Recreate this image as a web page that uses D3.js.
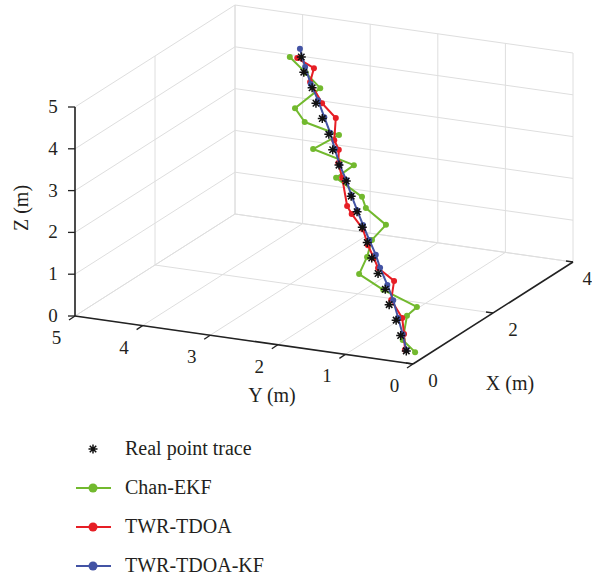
<!DOCTYPE html>
<html>
<head>
<meta charset="utf-8">
<script src="https://cdn.jsdelivr.net/npm/d3@7"></script>
<style>
  body { margin: 0; background: #fff; }
  svg { display: block; font-family: "Liberation Serif", "DejaVu Serif", serif; }
  .grid { stroke: #dedede; stroke-width: 1; fill: none; }
  .axis { stroke: #222; stroke-width: 1.6; fill: none; }
  .tick { stroke: #222; stroke-width: 1.3; }
  text { fill: #231f20; }
</style>
</head>
<body>
<svg id="chart" width="592" height="580"></svg>
<script>
// shared x positions of each time step
const xTrace = [0.39, 0.52, 0.66, 0.79, 0.93, 1.07, 1.2, 1.34, 1.47, 1.61, 1.75, 1.88, 2.02, 2.15, 2.29, 2.43, 2.56, 2.7, 2.83, 2.97];

const yReal = [0.33, 0.49, 0.64, 0.82, 0.96, 1.15, 1.32, 1.47, 1.62, 1.78, 1.95, 2.10, 2.29, 2.46, 2.60, 2.78, 2.95, 3.09, 3.29, 3.41];
const zReal = [0, 0.25, 0.5, 0.75, 1, 1.25, 1.5, 1.75, 2, 2.25, 2.5, 2.75, 3, 3.25, 3.5, 3.75, 4, 4.25, 4.5, 4.75];

const yChan = [0.20, 0.46, 0.48, 0.41, 0.99, 1.43, 1.39, 1.40, 1.27, 1.65, 1.79, 2.25, 2.07, 2.75, 2.45, 3.04, 3.26, 2.97, 3.26, 3.58];
const zChan = [0.0, 0.15, 0.64, 0.79, 0.98, 1.17, 1.51, 1.83, 2.14, 2.37, 2.52, 2.79, 3.05, 3.20, 3.52, 3.61, 3.81, 4.27, 4.49, 4.71];

const yTwr = [0.35, 0.44, 0.55, 0.79, 0.83, 1.15, 1.29, 1.46, 1.61, 1.86, 2.01, 2.16, 2.30, 2.37, 2.52, 2.58, 2.86, 3.12, 3.14, 3.47];
const zTwr = [0.02, 0.30, 0.57, 0.87, 1.23, 1.38, 1.51, 1.69, 1.96, 2.18, 2.25, 2.81, 3.05, 3.27, 3.38, 3.81, 4.02, 4.38, 4.63, 4.71];

const yKf = [0.33, 0.46, 0.61, 0.76, 0.93, 1.12, 1.26, 1.44, 1.61, 1.78, 1.95, 2.10, 2.28, 2.43, 2.58, 2.75, 2.92, 3.11, 3.27, 3.43];
const zKf = [0.02, 0.29, 0.56, 0.87, 1.11, 1.39, 1.59, 1.82, 2.06, 2.29, 2.53, 2.77, 3.01, 3.28, 3.54, 3.79, 4.08, 4.34, 4.63, 4.94];

const xTicks = [0, 2, 4];
const yTicks = [0, 1, 2, 3, 4, 5];
const zTicks = [0, 1, 2, 3, 4, 5];

const legendLabels = ["Real point trace", "Chan-EKF", "TWR-TDOA", "TWR-TDOA-KF"];
const lineColors = ["#222", "#72b92e", "#e61e25", "#4353a4"];

const svg = d3.select("#chart");

// 3D box -> screen: each axis scale gives a fraction along its edge vector
const xS = d3.scaleLinear().domain([0, 4]).range([0, 1]);
const yS = d3.scaleLinear().domain([5, 0]).range([0, 1]);
const zS = d3.scaleLinear().domain([0, 5]).range([0, 1]);
const origin = [75, 316];   // x=0, y=5, z=0
const ex = [160, -102];
const ey = [338, 48];
const ez = [0, -209];

function project(x, y, z) {
    const a = xS(x), b = yS(y), c = zS(z);
    return [origin[0] + a * ex[0] + b * ey[0] + c * ez[0],
            origin[1] + a * ex[1] + b * ey[1] + c * ez[1]];
}

function seg(p, q) {
    return `M${p[0]},${p[1]}L${q[0]},${q[1]}`;
}

// grid on the three back planes
const gridPaths = [];
yTicks.forEach(y => {
    gridPaths.push(seg(project(0, y, 0), project(4, y, 0)));   // floor
    gridPaths.push(seg(project(4, y, 0), project(4, y, 5)));   // back wall
});
xTicks.forEach(x => {
    gridPaths.push(seg(project(x, 0, 0), project(x, 5, 0)));   // floor
    gridPaths.push(seg(project(x, 5, 0), project(x, 5, 5)));   // left wall
});
zTicks.forEach(z => {
    gridPaths.push(seg(project(0, 5, z), project(4, 5, z)));   // left wall
    gridPaths.push(seg(project(4, 5, z), project(4, 0, z)));   // back wall
});
svg.append("g").selectAll("path")
    .data(gridPaths)
    .enter().append("path")
    .attr("class", "grid")
    .attr("d", d => d);

// axes lines
const axes = svg.append("g");
axes.append("path").attr("class", "axis").attr("d", seg(project(0, 5, 0), project(0, 5, 5)));
axes.append("path").attr("class", "axis").attr("d", seg(project(0, 5, 0), project(0, 0, 0)));
axes.append("path").attr("class", "axis").attr("d", seg(project(0, 0, 0), project(4, 0, 0)));

// z ticks
zTicks.forEach(z => {
    const p = project(0, 5, z);
    axes.append("line").attr("class", "tick")
        .attr("x1", p[0] - 7).attr("y1", p[1]).attr("x2", p[0]).attr("y2", p[1]);
    axes.append("text").attr("x", p[0] - 22).attr("y", p[1] + 6)
        .attr("text-anchor", "middle").attr("font-size", 19).text(z);
});
// y ticks (point toward the viewer, along -x)
yTicks.forEach(y => {
    const p = project(0, y, 0);
    axes.append("line").attr("class", "tick")
        .attr("x1", p[0]).attr("y1", p[1]).attr("x2", p[0] - 6).attr("y2", p[1] + 4);
    axes.append("text").attr("x", p[0] - 18.5).attr("y", p[1] + 28)
        .attr("text-anchor", "middle").attr("font-size", 19).text(y);
});
// x ticks (point along +y)
xTicks.forEach(x => {
    const p = project(x, 0, 0);
    axes.append("line").attr("class", "tick")
        .attr("x1", p[0]).attr("y1", p[1]).attr("x2", p[0] - 7).attr("y2", p[1] - 1);
    const last = x === 4;
    axes.append("text").attr("x", last ? 592 : p[0] + 20).attr("y", p[1] + 23)
        .attr("text-anchor", last ? "end" : "middle").attr("font-size", 19).text(x);
});

// axis titles
svg.append("text").attr("transform", "translate(28,208) rotate(-90)")
    .attr("text-anchor", "middle").attr("font-size", 20).text("Z (m)");
svg.append("text").attr("x", 272).attr("y", 402)
    .attr("text-anchor", "middle").attr("font-size", 20).text("Y (m)");
svg.append("text").attr("x", 510).attr("y", 390)
    .attr("text-anchor", "middle").attr("font-size", 20).text("X (m)");

// trajectories
const series = [
    { ys: yChan, zs: zChan, color: lineColors[1] },
    { ys: yTwr, zs: zTwr, color: lineColors[2] },
    { ys: yKf, zs: zKf, color: lineColors[3] }
];
const line = d3.line();
series.forEach(s => {
    const pts = xTrace.map((x, i) => project(x, s.ys[i], s.zs[i]));
    const g = svg.append("g");
    g.append("path").attr("d", line(pts))
        .attr("fill", "none").attr("stroke", s.color).attr("stroke-width", 2)
        .attr("stroke-linejoin", "round");
    g.selectAll("circle").data(pts).enter().append("circle")
        .attr("cx", d => d[0]).attr("cy", d => d[1]).attr("r", 3)
        .attr("fill", s.color);
});

function starPath(cx, cy, r) {
    const d = r * 0.72;
    return `M${cx - r},${cy}L${cx + r},${cy}M${cx},${cy - r}L${cx},${cy + r}` +
        `M${cx - d},${cy - d}L${cx + d},${cy + d}M${cx - d},${cy + d}L${cx + d},${cy - d}`;
}

const realPts = xTrace.map((x, i) => project(x, yReal[i], zReal[i]));
svg.append("g").selectAll("path").data(realPts).enter().append("path")
    .attr("d", d => starPath(d[0], d[1], 4.5))
    .attr("stroke", "#111").attr("stroke-width", 1.5).attr("fill", "none");

// legend
const legend = svg.append("g");
legendLabels.forEach((label, i) => {
    const y = 449 + i * 39;
    if (i === 0) {
        legend.append("path").attr("d", starPath(93, y, 4.5))
            .attr("stroke", "#111").attr("stroke-width", 1.5);
    } else {
        legend.append("line").attr("x1", 76).attr("x2", 111).attr("y1", y).attr("y2", y)
            .attr("stroke", lineColors[i]).attr("stroke-width", 2);
        legend.append("circle").attr("cx", 93).attr("cy", y).attr("r", 4.5)
            .attr("fill", lineColors[i]);
    }
    legend.append("text").attr("x", 125).attr("y", y + 6)
        .attr("font-size", 20).text(label);
});
</script>
</body>
</html>
